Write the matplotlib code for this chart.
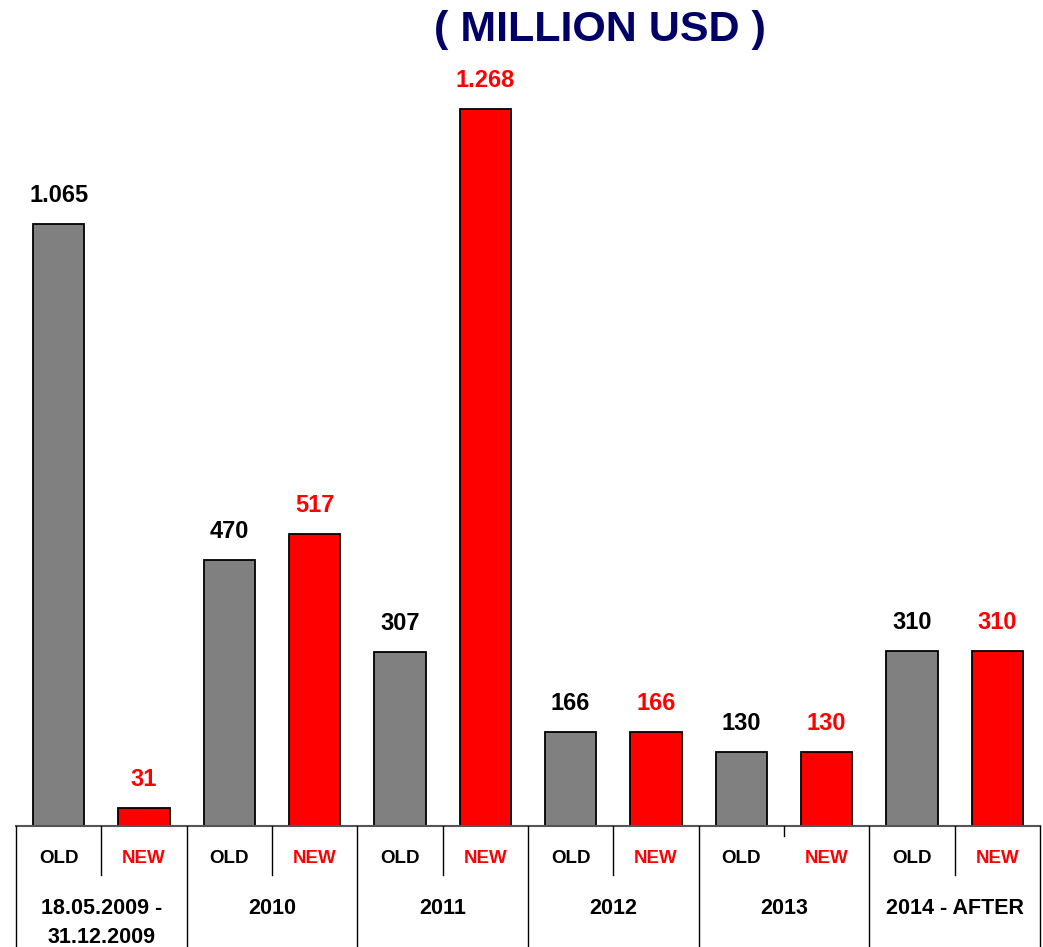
import matplotlib.pyplot as plt
import numpy as np

plt.rcParams["font.family"] = ["Liberation Sans", "DejaVu Sans"]

groups = ["18.05.2009 -\n31.12.2009", "2010", "2011", "2012", "2013", "2014 - AFTER"]
old_values = [1065, 470, 307, 166, 130, 310]
new_values = [31, 517, 1268, 166, 130, 310]

OLD_COLOR = "#808080"
NEW_COLOR = "#ff0000"


def fmt(v):
    # thousands separated by a dot
    return f"{v:,}".replace(",", ".")


fig = plt.figure(figsize=(10.43, 9.47), dpi=100)
ax = fig.add_axes([16 / 1043, 121 / 947, 1024 / 1043, (826 - 34) / 947])

n = len(groups)
x_old = np.arange(n) * 2
x_new = x_old + 1

ax.bar(x_old, old_values, width=0.6, color=OLD_COLOR, edgecolor="black", linewidth=1.3)
ax.bar(x_new, new_values, width=0.6, color=NEW_COLOR, edgecolor="black", linewidth=1.3)

for xo, xn, vo, vn in zip(x_old, x_new, old_values, new_values):
    ax.text(xo, vo + 30, fmt(vo), ha="center", va="bottom", fontsize=17,
            fontweight="bold", color="black")
    ax.text(xn, vn + 30, fmt(vn), ha="center", va="bottom", fontsize=17,
            fontweight="bold", color=NEW_COLOR)

ax.set_xlim(-0.5, 2 * n - 0.5)
ax.set_ylim(0, 1400)
ax.axis("off")

# category table under the bars
line_kw = dict(color="black", linewidth=1.0, clip_on=False)
ax.plot([-0.5, 2 * n - 0.5], [0, 0], color="#555555", linewidth=1.5, clip_on=False)
for i in range(n + 1):
    ax.plot([2 * i - 0.5] * 2, [0, -214], **line_kw)
for i in range(n):
    bottom = -18 if groups[i] == "2013" else -87
    ax.plot([2 * i + 0.5] * 2, [0, bottom], **line_kw)
    ax.text(x_old[i], -57, "OLD", ha="center", va="center", fontsize=13.5,
            fontweight="bold", color="black")
    ax.text(x_new[i], -57, "NEW", ha="center", va="center", fontsize=13.5,
            fontweight="bold", color=NEW_COLOR)
    ax.text(2 * i + 0.5, -128, groups[i], ha="center", va="top", fontsize=15.5,
            fontweight="bold", color="black", linespacing=1.5)

fig.text(600 / 1043, 1 - 30 / 947, "( MILLION USD )", ha="center", va="center",
         fontsize=31, fontweight="bold", color="#000066")

fig.savefig("out.png", dpi=100)
